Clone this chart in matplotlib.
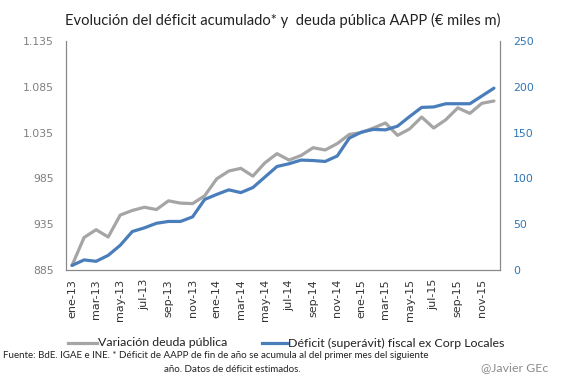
import matplotlib
matplotlib.use("Agg")
import matplotlib.pyplot as plt
from matplotlib.lines import Line2D
from matplotlib.ticker import FuncFormatter

months = ["ene", "feb", "mar", "abr", "may", "jun", "jul", "ago", "sep", "oct", "nov", "dic"]
categories = [f"{m}-{y}" for y in ("13", "14", "15") for m in months]

deuda = [890, 920.5, 929, 921, 945, 950, 953.5, 951, 960.5, 958, 957.5, 966,
         984.5, 993, 996, 987.5, 1002, 1012, 1005, 1010, 1018.5, 1016, 1023, 1033,
         1035, 1040, 1045.5, 1032, 1039, 1052, 1040, 1049, 1062, 1056, 1067, 1069.5]
deficit = [5, 11, 9.5, 16, 27, 42, 46, 51, 53, 53, 58, 77,
           82.5, 87.5, 84.5, 90, 101.5, 113, 116, 120, 119.5, 118.5, 124.5, 144,
           150.5, 153.5, 153, 157, 167.5, 177.5, 178, 181.5, 181.5, 181.5, 190, 198.5]

left_ticks = [885, 935, 985, 1035, 1085, 1135]
right_ticks = [0, 50, 100, 150, 200, 250]
series_names = ["Variación deuda pública", "Déficit (superávit) fiscal ex Corp Locales"]
title = "Evolución del déficit acumulado* y  deuda pública AAPP (€ miles m)"
note1 = "Fuente: BdE. IGAE e INE. * Déficit de AAPP de fin de año se acumula al del primer mes del siguiente"
note2 = "año. Datos de déficit estimados."
credit = "@Javier GEc"

grey = "#a5a5a5"
blue = "#4a7ebb"
blue_txt = "#2f75b5"
axis_grey = "#888888"

W, H = 567, 378
fig = plt.figure(figsize=(W / 100, H / 100), dpi=100)
renderer = fig.canvas.get_renderer()


def fx(px):
    return px / W


def fy(py):
    return 1 - py / H


def fit(txt, width_px):
    w = txt.get_window_extent(renderer).width
    txt.set_fontsize(txt.get_fontsize() * width_px / w)
    return txt.get_fontsize()


ax = fig.add_axes([fx(66), fy(270), fx(500 - 66), (270 - 41) / H])
ax2 = ax.twinx()

x = list(range(len(categories)))
l1, = ax.plot(x, deuda, color=grey, lw=2.3, solid_joinstyle="round", solid_capstyle="round")
l2, = ax2.plot(x, deficit, color=blue, lw=2.3, solid_joinstyle="round", solid_capstyle="round")

ax.set_ylim(885, 1135)
ax2.set_ylim(0, 250)
ax.set_xlim(-0.5, len(categories) - 0.5)
ax.set_yticks(left_ticks)
ax2.set_yticks(right_ticks)
ax.yaxis.set_major_formatter(FuncFormatter(lambda v, p: f"{int(v):,}".replace(",", ".")))

ax.set_xticks(x[::2])
ax.set_xticklabels(categories[::2], rotation=90, color="#333333", family="DejaVu Sans", fontsize=8)
ax.tick_params(axis="x", length=0, pad=6.5)
ax.tick_params(axis="y", length=0, colors="#7f7f7f", pad=9, labelsize=7.8)
ax2.tick_params(axis="y", length=0, colors=blue_txt, pad=9.5, labelsize=7.8)

for a in (ax, ax2):
    a.spines["top"].set_visible(False)
    for s in ("left", "right", "bottom"):
        a.spines[s].set_color(axis_grey)
        a.spines[s].set_linewidth(0.8)

# title
tt = fig.text(fx(283), fy(20), title, ha="center", va="center", fontsize=10,
              family="Lato", color="#222222")
fit(tt, 434)

# legend drawn as line samples + labels
lt1 = fig.text(fx(98), fy(343), series_names[0], ha="left", va="center", fontsize=9,
               family="Lato", color="#222222")
lt2 = fig.text(fx(288), fy(343), series_names[1], ha="left", va="center", fontsize=9,
               family="Lato", color="#222222")
s1 = lt1.get_fontsize() * 130 / lt1.get_window_extent(renderer).width
s2 = lt2.get_fontsize() * 217 / lt2.get_window_extent(renderer).width
ls = (s1 + s2) / 2
lt1.set_fontsize(ls)
lt2.set_fontsize(ls)
fig.add_artist(Line2D([fx(68), fx(97)], [fy(343), fy(343)], color=grey, lw=2.3,
                      transform=fig.transFigure))
fig.add_artist(Line2D([fx(262), fx(287)], [fy(343), fy(343)], color=blue, lw=2.3,
                      transform=fig.transFigure))

# footnotes
n1 = fig.text(fx(3), fy(355), note1, ha="left", va="center", fontsize=7,
              family="Lato", color="#222222")
ns = fit(n1, 430)
fig.text(fx(232), fy(370), note2, ha="center", va="center", fontsize=ns,
         family="Lato", color="#222222")
cr = fig.text(fx(548), fy(368), credit, ha="right", va="center", fontsize=8,
              family="Lato", color="#8c8c8c")
fit(cr, 68)

fig.savefig("out.png", dpi=100)
